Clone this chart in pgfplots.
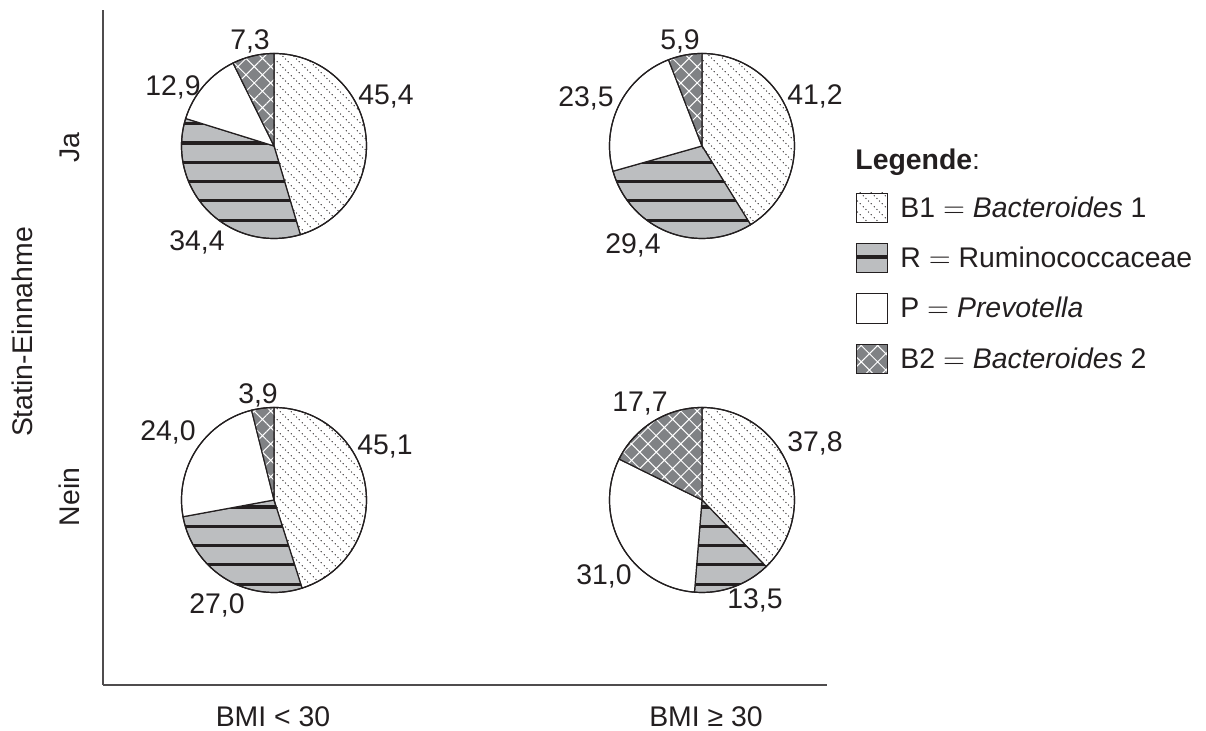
\documentclass[border=0pt]{standalone}
\usepackage{fontspec}
\setmainfont{Liberation Sans}
\usepackage{pgfplots}
\pgfplotsset{compat=1.18}
\usetikzlibrary{patterns,patterns.meta,calc}

\definecolor{ink}{HTML}{231F20}
\definecolor{rgray}{HTML}{BCBEC0}
\definecolor{dgray}{HTML}{808285}

% dotted diagonal lines (B1)
\pgfdeclarepatternformonly{dotdiag}{\pgfpointorigin}{\pgfqpoint{5.6pt}{5.6pt}}{\pgfqpoint{5.6pt}{5.6pt}}{%
  \pgfpathcircle{\pgfqpoint{0.7pt}{4.9pt}}{0.36pt}%
  \pgfpathcircle{\pgfqpoint{2.1pt}{3.5pt}}{0.36pt}%
  \pgfpathcircle{\pgfqpoint{3.5pt}{2.1pt}}{0.36pt}%
  \pgfpathcircle{\pgfqpoint{4.9pt}{0.7pt}}{0.36pt}%
  \pgfusepath{fill}}

\tikzset{
  b1/.style={preaction={fill=white}, pattern=dotdiag, pattern color=ink, draw=ink, line width=0.6pt},
  pp/.style={fill=white, draw=ink, line width=0.6pt},
  b2/.style={preaction={fill=dgray}, pattern={Hatch[angle=45,distance=5.8pt,line width=0.5pt]}, pattern color=white, draw=ink, line width=0.6pt},
  lbl/.style={anchor=base, inner sep=0pt, text=ink},
}

\def\pr{46.25pt}
% #1 centre, #2..#5 = B1, R, P, B2 (per cent), clockwise from 12 o'clock,
% #6 offset (pt, downwards) of one stripe of R from the centre
\newcommand\pie[6]{%
  \pgfmathsetmacro\aA{90-3.6*#2}%
  \pgfmathsetmacro\aB{\aA-3.6*#3}%
  \pgfmathsetmacro\aC{\aB-3.6*#4}%
  \path[b1] (#1) -- ++(90:\pr) arc[start angle=90, end angle=\aA, radius=\pr] -- cycle;
  \begin{scope}
    \clip (#1) -- ++(\aA:\pr) arc[start angle=\aA, end angle=\aB, radius=\pr] -- cycle;
    \fill[rgray] (#1) circle[radius=\pr+2pt];
    \foreach \k in {-6,...,6}{%
      \fill[ink] ($(#1)+(-50pt,{-(#6+\k*9.65)*1pt+0.8pt})$) rectangle ++(100pt,-1.6pt);}
  \end{scope}
  \draw[ink, line width=0.6pt] (#1) -- ++(\aA:\pr) arc[start angle=\aA, end angle=\aB, radius=\pr] -- cycle;
  \path[pp] (#1) -- ++(\aB:\pr) arc[start angle=\aB, end angle=\aC, radius=\pr] -- cycle;
  \path[b2] (#1) -- ++(\aC:\pr) arc[start angle=\aC, end angle=-270, radius=\pr] -- cycle;
  \draw[ink, line width=0.6pt] (#1) circle[radius=\pr];
}

\begin{document}
\begin{tikzpicture}[font=\fontsize{14.2}{17}\selectfont]
\begin{axis}[
  scale only axis,
  width=362pt, height=337.5pt,
  xmin=103, xmax=827, ymin=-685, ymax=-10,
  axis lines=left,
  axis line style={-, draw=ink!80, line width=0.6pt},
  xtick=\empty, ytick=\empty,
  clip=false,
]
  \path (axis cs:0,0) rectangle (axis cs:1206,-731);
  \coordinate (p1) at (axis cs:274,-146);
  \coordinate (p2) at (axis cs:702,-146);
  \coordinate (p3) at (axis cs:274,-500);
  \coordinate (p4) at (axis cs:702,-500);

  % pie labels
  \node[lbl] at (axis cs:250,-50)  {7,3};
  \node[lbl] at (axis cs:386,-105) {45,4};
  \node[lbl] at (axis cs:173,-96)  {12,9};
  \node[lbl] at (axis cs:197,-251) {34,4};

  \node[lbl] at (axis cs:680,-50)  {5,9};
  \node[lbl] at (axis cs:815,-105) {41,2};
  \node[lbl] at (axis cs:586,-107) {23,5};
  \node[lbl] at (axis cs:633,-254) {29,4};

  \node[lbl] at (axis cs:258,-404) {3,9};
  \node[lbl] at (axis cs:385,-455) {45,1};
  \node[lbl] at (axis cs:168,-441) {24,0};
  \node[lbl] at (axis cs:217,-614) {27,0};

  \node[lbl] at (axis cs:640,-412) {17,7};
  \node[lbl] at (axis cs:815,-452) {37,8};
  \node[lbl] at (axis cs:604,-585) {31,0};
  \node[lbl] at (axis cs:755,-609) {13,5};

  % axis texts
  \node[lbl] at (axis cs:273,-727) {BMI < 30};
  \node[lbl] at (axis cs:706,-727) {BMI ≥ 30};
  \node[lbl, rotate=90] at (axis cs:80,-148) {Ja};
  \node[lbl, rotate=90] at (axis cs:80,-497) {Nein};
  \node[lbl, rotate=90] at (axis cs:33,-332) {Statin-Einnahme};

  % legend
  \node[lbl, anchor=base west] at (axis cs:855,-170) {\textbf{Legende}:};
  \path[b1, line width=0.4pt] (axis cs:856,-193) rectangle (axis cs:887,-222);
  \fill[rgray] (axis cs:856,-243) rectangle (axis cs:887,-272);
  \fill[ink] (axis cs:856,-255.5) rectangle (axis cs:887,-259.5);
  \draw[ink, line width=0.4pt] (axis cs:856,-243) rectangle (axis cs:887,-272);
  \path[pp, line width=0.4pt] (axis cs:856,-293) rectangle (axis cs:887,-323);
  \path[b2, line width=0.4pt] (axis cs:856,-344) rectangle (axis cs:887,-373);
  \node[lbl, anchor=base west] at (axis cs:900,-218) {B1 $=$ \textit{Bacteroides} 1};
  \node[lbl, anchor=base west] at (axis cs:900,-268) {R $=$ Ruminococcaceae};
  \node[lbl, anchor=base west] at (axis cs:900,-318) {P $=$ \textit{Prevotella}};
  \node[lbl, anchor=base west] at (axis cs:900,-369) {B2 $=$ \textit{Bacteroides} 2};
\end{axis}
\pie{p1}{45.4}{34.4}{12.9}{7.3}{-1.5}
\pie{p2}{41.2}{29.4}{23.5}{5.9}{-1.5}
\pie{p3}{45.1}{27.0}{24.0}{3.9}{3.5}
\pie{p4}{37.8}{13.5}{31.0}{17.7}{3.5}
\end{tikzpicture}
\end{document}
